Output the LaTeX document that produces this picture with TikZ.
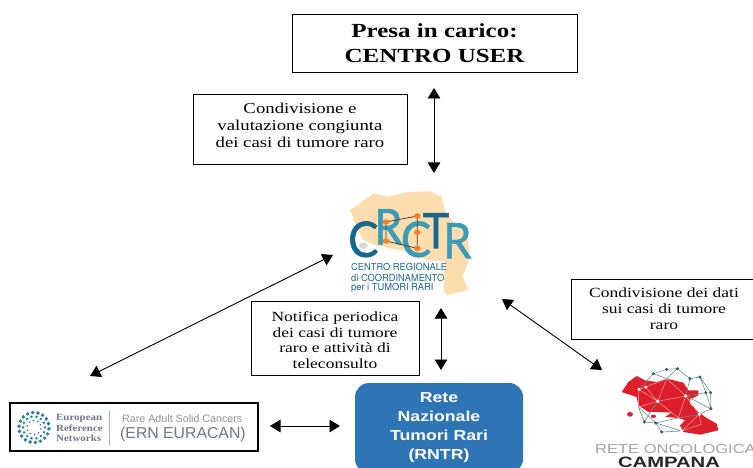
\documentclass[tikz,border=0pt]{standalone}
\usepackage{fontspec}
\setmainfont{Liberation Serif}
\setsansfont{Liberation Sans}
\newfontfamily\heros{TeX Gyre Heros}
\newfontfamily\lato[FakeStretch=0.92,FakeBold=1.2]{Lato}
\newfontfamily\wserif[FakeStretch=1.25]{Liberation Serif}
\newfontfamily\wsans[FakeStretch=1.22]{Liberation Sans}
\newfontfamily\ernserif[FakeStretch=1.15]{Liberation Serif}
\newfontfamily\rocsans[FakeStretch=1.27]{Liberation Sans}
\newfontfamily\rocbold[FakeStretch=1.35]{Liberation Sans}
\usetikzlibrary{arrows.meta}
\definecolor{peach}{HTML}{FBDDAE}
\definecolor{crdark}{HTML}{17678F}
\definecolor{crteal}{HTML}{3C9CB6}
\definecolor{crorange}{HTML}{EE7F2D}
\definecolor{rnblue}{HTML}{2E75B6}
\definecolor{rocred}{HTML}{DE1F2B}
\definecolor{rocnet}{HTML}{2F5D66}
\definecolor{rocgrey}{HTML}{A3A3A3}
\definecolor{erngrey}{HTML}{707880}
\definecolor{erndot}{HTML}{2A7FA6}
\tikzset{
  textbox/.style={draw=black,line width=0.7pt,fill=white,align=center,inner sep=0pt},
  boxtext/.style={align=center,inner sep=0pt},
  twoway/.style={{Stealth[length=10.5pt,width=12.5pt,inset=0pt]}-{Stealth[length=10.5pt,width=12.5pt,inset=0pt]},line width=0.9pt,black},
  crletter/.style={font=\lato\fontsize{49}{49}\selectfont,inner sep=0pt},
  crsmall/.style={font=\heros\fontsize{9.7}{10}\selectfont,text=crdark,inner sep=0pt,anchor=west,xscale=0.96},
  netline/.style={rocnet!70,line width=0.6pt},
  whiteline/.style={white!60!rocred,line width=0.5pt},
}
\begin{document}
\begin{tikzpicture}[x=1pt,y=-1pt]
\useasboundingbox (0,0) rectangle (753,468);
% --- CRCTR logo
\begin{scope}[shift={(330,180)},x=0.3333pt,y=-0.3333pt]
  \fill[peach] (60,90) -- (90,70) -- (130,40) -- (175,50) -- (235,36) -- (300,34) -- (335,50)
     -- (345,95) -- (370,125) -- (410,150) -- (420,232) -- (398,290) -- (415,330) -- (350,345)
     -- (340,330) -- (345,245) -- (290,240) -- (240,215) -- (180,205) -- (135,195) -- (100,180) -- (85,150) -- cycle;
  \fill[gray!30] (100,197) ellipse[x radius=14,y radius=10];
  \node[crletter,text=crdark] (crC) at (100,178) {C};
  \node[crletter,text=crteal] (crR) at (175,140) {R};
  \node[crletter,text=crteal] (crCb) at (258,178) {C};
  \node[crletter,text=crdark] (crT) at (318,152) {T};
  \node[crletter,text=crteal] (crRb) at (382,182) {R};
  \draw[black!75,line width=0.8pt] (168,126) -- (262,108) -- (262,205) -- (168,183) -- cycle;
  \foreach \p in {(168,126),(262,108),(262,157),(168,183),(262,205)}
    \fill[crorange] \p ellipse[x radius=10,y radius=8];
  \node[crsmall] (crl1) at (63,262) {CENTRO REGIONALE};
  \node[crsmall] (crl2) at (63,293) {di COORDINAMENTO};
  \node[crsmall] (crl3) at (63,324) {per i TUMORI RARI};
\end{scope}
% --- text boxes
\node[textbox,minimum width=285pt,minimum height=58pt,font=\wserif\bfseries\fontsize{20}{25}\selectfont] (user) at (434.5,43) {Presa in carico:\\CENTRO USER};
\node[textbox,minimum width=214pt,minimum height=70pt] (cond) at (300,129) {};
\node[boxtext,font=\wserif\fontsize{15}{16.7}\selectfont] (condt) at (cond.center) [yshift=3.5pt] {Condivisione e\\valutazione congiunta\\dei casi di tumore raro};
\node[textbox,minimum width=168pt,minimum height=74pt] (notif) at (335,338) {};
\node[boxtext,font=\wserif\fontsize{14}{15.6}\selectfont] (notift) at (notif.center) [yshift=-2pt] {Notifica periodica\\dei casi di tumore\\raro e attività di\\teleconsulto};
\node[textbox,minimum width=186pt,minimum height=60pt,font=\wserif\fontsize{14}{16}\selectfont] (dati) at (664,309) {Condivisione dei dati\\sui casi di tumore\\raro};
% --- ERN box
\node[draw=black,line width=1.2pt,fill=white,minimum width=248pt,minimum height=48pt,inner sep=0pt] (ern) at (134,427) {};
\foreach \r/\n/\s in {7/10/0.9,11/14/1.4,15/18/1.9}
  \foreach \i in {1,...,\n}
    \fill[erndot] ({34+\r*cos(\i*360/\n+\r*7)},{427.5+\r*sin(\i*360/\n+\r*7)}) circle[radius=\s];
\node[font=\ernserif\bfseries\fontsize{9.5}{10.7}\selectfont,text=erngrey,align=left,inner sep=0pt,anchor=west] (ernt) at (56,428) {European\\Reference\\Networks};
\coordinate (barT) at (109,411); \coordinate (barB) at (109,445);
\draw[crteal!60,line width=0.8pt] (barT) -- (barB);
\node[font=\sffamily\fontsize{10.7}{11}\selectfont,text=erngrey!80,inner sep=0pt,anchor=west] (ernr) at (122,419) {Rare Adult Solid Cancers};
\node[font=\sffamily\fontsize{15.8}{16}\selectfont,text=erngrey,inner sep=0pt,anchor=west] (erne) at (120,434) {(ERN EURACAN)};
% --- RNTR
\node[fill=rnblue,rounded corners=14pt,minimum width=168pt,minimum height=90pt,inner sep=0pt,text=white,align=center,font=\wsans\bfseries\fontsize{14.5}{19}\selectfont] (rntr) at (439,428) {Rete\\Nazionale\\Tumori Rari\\(RNTR)};
% --- Rete Oncologica logo
\begin{scope}[shift={(615,362)},x=0.3333pt,y=-0.3333pt]
  \fill[rocred] (20,90) -- (40,60) -- (65,42) -- (90,55) -- (125,60) -- (155,50) -- (205,62) -- (220,85) -- (250,85) -- (250,100)
     -- (225,112) -- (225,125) -- (250,150) -- (270,165) -- (305,185) -- (310,205) -- (255,218) -- (205,210) -- (195,190)
     -- (210,175) -- (190,168) -- (150,165) -- (170,152) -- (130,150) -- (100,150) -- (70,130) -- (65,105) -- cycle;
  \fill[rocred] (45,157) ellipse[x radius=9,y radius=7];
  \fill[rocred] (115,163) ellipse[x radius=8,y radius=5];
  \draw[netline] (72,82) -- (115,35) -- (155,22) -- (187,20) -- (225,50) -- (255,45) -- (273,92) -- (288,140) -- (253,157)
     (115,35) -- (155,50) -- (187,20) (225,50) -- (212,102) -- (273,92) (255,45) -- (287,92) -- (288,140) (212,102) -- (288,140)
     (70,135) -- (88,180) -- (122,183) -- (140,210) -- (200,207) (88,180) -- (128,118) (122,183) -- (200,207) (70,135) -- (122,183)
     (122,183) -- (190,168) -- (253,157);
  \draw[whiteline] (72,82) -- (92,75) -- (155,50) -- (212,102) -- (128,118) -- (70,135) -- (72,82) -- (128,118) -- (155,50)
     (92,75) -- (128,118) (212,102) -- (253,157) -- (200,207) -- (258,187) -- (253,157) (128,118) -- (190,168) -- (212,102);
  \foreach \p in {(115,35),(155,22),(187,20),(225,50),(255,45),(273,92),(287,92),(288,140),(88,180),(122,183),(140,210)}
    \fill[rocnet] \p circle[radius=5];
  \foreach \p in {(72,82),(92,75),(212,102),(128,118),(253,157),(200,207)}
    \fill[white] \p circle[radius=5];
\end{scope}
\node[font=\rocsans\fontsize{13}{14}\selectfont,text=rocgrey,inner sep=0pt,anchor=base west] (rocl) at (595,453) {RETE ONCOLOGICA};
\node[font=\rocbold\bfseries\fontsize{15}{16}\selectfont,text=black!85,inner sep=0pt,anchor=base] (rocc) at (669,467.5) {CAMPANA};
% --- connectors
\coordinate (a1) at (434,88); \coordinate (a2) at (434,173);
\coordinate (b1) at (441,308); \coordinate (b2) at (441,370);
\coordinate (c1) at (333,255); \coordinate (c2) at (90,376);
\coordinate (d1) at (502,299); \coordinate (d2) at (602,370);
\coordinate (e1) at (270,426); \coordinate (e2) at (340,426);
\draw[twoway] (a1) -- (a2);
\draw[twoway] (b1) -- (b2);
\draw[twoway] (c1) -- (c2);
\draw[twoway] (d1) -- (d2);
\draw[twoway] (e1) -- (e2);
\end{tikzpicture}
\end{document}
